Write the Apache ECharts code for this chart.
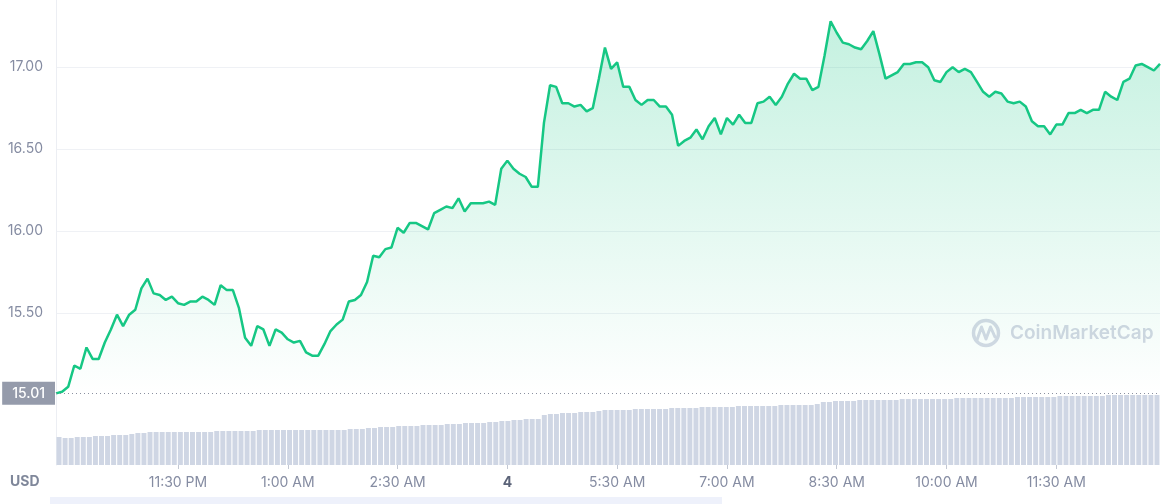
<!DOCTYPE html>
<html>
<head>
<meta charset="utf-8">
<script src="https://cdn.jsdelivr.net/npm/echarts@6/dist/echarts.min.js"></script>
<style>
html,body{margin:0;padding:0;background:#fff;}
#chart{width:1161px;height:504px;}
</style>
</head>
<body>
<div id="chart"></div>
<script>
// ---- data ----
const startMinute = 21 * 60 + 50; // 9:50 PM
const stepMinutes = 5;
const priceValues = [
15.01,15.02,15.05,15.18,15.16,15.29,15.22,15.22,15.32,15.40,
15.49,15.42,15.49,15.52,15.65,15.71,15.62,15.61,15.58,15.60,
15.56,15.55,15.57,15.57,15.60,15.58,15.55,15.67,15.64,15.64,
15.53,15.35,15.30,15.42,15.40,15.30,15.40,15.38,15.34,15.32,
15.33,15.26,15.24,15.24,15.31,15.39,15.43,15.46,15.57,15.58,
15.61,15.69,15.85,15.84,15.89,15.90,16.02,15.99,16.05,16.05,
16.03,16.01,16.11,16.13,16.15,16.14,16.20,16.12,16.17,16.17,
16.17,16.18,16.16,16.38,16.43,16.38,16.35,16.33,16.27,16.27,
16.66,16.89,16.88,16.78,16.78,16.76,16.77,16.73,16.75,16.93,
17.12,16.99,17.03,16.88,16.88,16.80,16.77,16.80,16.80,16.76,
16.76,16.71,16.52,16.55,16.57,16.62,16.56,16.64,16.69,16.59,
16.69,16.65,16.71,16.66,16.66,16.78,16.79,16.82,16.77,16.82,
16.90,16.96,16.93,16.93,16.86,16.88,17.07,17.28,17.21,17.15,
17.14,17.12,17.11,17.16,17.22,17.08,16.93,16.95,16.97,17.02,
17.02,17.03,17.03,17.00,16.92,16.91,16.97,17.00,16.97,16.99,
16.97,16.91,16.85,16.82,16.85,16.84,16.79,16.78,16.79,16.76,
16.67,16.64,16.64,16.59,16.65,16.65,16.72,16.72,16.74,16.72,
16.74,16.74,16.85,16.82,16.80,16.91,16.93,17.01,17.02,17.00,
16.98,17.02
];
const volumeValues = [
28,27,27,28,28,28,29,29,29,30,30,30,31,32,32,33,33,
33,33,33,33,33,33,33,33,33,34,34,34,34,34,
34,34,35,35,35,35,35,35,35,35,35,35,35,35,35,35,35,36,36,36,
37,37,38,38,38,39,39,39,39,40,40,40,40,41,41,41,42,42,42,42,43,43,
44,44,45,45,46,46,46,
50,51,51,52,52,52,53,53,53,54,55,55,55,55,55,56,56,56,56,56,56,
57,57,57,57,57,58,58,58,58,58,58,59,59,59,59,59,59,59,60,60,60,60,60,60,61,
63,63,64,64,64,64,65,65,65,65,65,65,65,66,66,66,66,66,66,66,66,66,67,67,67,
67,67,67,67,67,67,67,68,68,68,68,68,68,68,69,69,69,69,69,69,69,69,70,70,70,70,70,70,70,70,70
];
const openPrice = 15.01;
const priceAxisMin = 15.0;
const priceAxisMax = 17.41;
const tickTimes  = ['23:30','01:00','02:30','04:00','05:30','07:00','08:30','10:00','11:30'];
const tickLabels = ['11:30 PM','1:00 AM','2:30 AM','4','5:30 AM','7:00 AM','8:30 AM','10:00 AM','11:30 AM'];
const dayLabels = ['4'];
const yTickLabels = ['15.50','16.00','16.50','17.00'];
const currency = 'USD';
const watermark = 'CoinMarketCap';

// categories (timestamps of each point)
const categories = priceValues.map(function (_, i) {
  const t = (startMinute + stepMinutes * i) % 1440;
  const h = Math.floor(t / 60), m = t % 60;
  return (h < 10 ? '0' : '') + h + ':' + (m < 10 ? '0' : '') + m;
});

const FONT = 'Inter, "Noto Sans", sans-serif';
const showTick = function (idx) { return tickTimes.indexOf(categories[idx]) >= 0; };

const chart = echarts.init(document.getElementById('chart'), null, {renderer: 'canvas'});
chart.setOption({
  animation: false,
  backgroundColor: '#ffffff',
  grid: [
    {left: 56, right: 1, top: 0, bottom: 109},
    {left: 56, right: 1, top: 395, bottom: 39}
  ],
  xAxis: [
    {
      type: 'category', gridIndex: 0, data: categories, boundaryGap: false,
      position: 'bottom', offset: 70,
      axisLine: {show: false},
      axisTick: {show: true, interval: showTick, length: 4, lineStyle: {color: '#c3c8d3', width: 1}},
      axisLabel: {
        interval: showTick, margin: 11, color: '#858ca2', fontSize: 14, fontFamily: FONT,
        formatter: function (v) {
          const k = tickTimes.indexOf(v);
          if (k < 0) return '';
          const lab = tickLabels[k];
          return dayLabels.indexOf(lab) >= 0 ? '{d|' + lab + '}' : lab;
        },
        rich: {d: {fontWeight: 'bold', color: '#5b6378', fontSize: 14, fontFamily: FONT}}
      },
      splitLine: {show: false}
    },
    {
      type: 'category', gridIndex: 1, data: categories, boundaryGap: true,
      show: false
    }
  ],
  yAxis: [
    {
      type: 'value', gridIndex: 0, min: priceAxisMin, max: priceAxisMax, interval: 0.5,
      axisLine: {show: true, lineStyle: {color: '#eceef3', width: 1}},
      axisTick: {show: false},
      axisLabel: {
        margin: 13, color: '#858ca2', fontSize: 14, fontFamily: FONT,
        showMinLabel: false, showMaxLabel: false,
        formatter: function (v) {
          const s = v.toFixed(2);
          return yTickLabels.indexOf(s) >= 0 ? s : '';
        }
      },
      splitLine: {show: true, showMinLine: false, showMaxLine: false, lineStyle: {color: '#eff1f5', width: 1}}
    },
    {
      type: 'value', gridIndex: 1, min: 0, max: 70,
      axisLine: {show: true, lineStyle: {color: '#eceef3', width: 1}},
      axisTick: {show: false}, axisLabel: {show: false}, splitLine: {show: false}
    }
  ],
  series: [
    {
      type: 'bar', xAxisIndex: 1, yAxisIndex: 1, data: volumeValues,
      barCategoryGap: '18%', itemStyle: {color: '#cfd6e4'}, silent: true
    },
    {
      type: 'line', xAxisIndex: 0, yAxisIndex: 0, data: priceValues,
      symbol: 'none', smooth: false,
      lineStyle: {color: '#16c784', width: 2.5},
      areaStyle: {
        color: new echarts.graphic.LinearGradient(0, 0, 0, 1, [
          {offset: 0, color: 'rgba(22,199,132,0.36)'},
          {offset: 1, color: 'rgba(22,199,132,0)'}
        ])
      },
      z: 3,
      markLine: {
        silent: true, symbol: 'none', animation: false,
        lineStyle: {type: [1, 3], color: '#8a90a0', width: 1},
        label: {
          show: true, position: 'start', distance: 1,
          formatter: function () { return openPrice.toFixed(2); },
          color: '#ffffff', fontSize: 14, fontWeight: 500, fontFamily: FONT,
          backgroundColor: '#959bab', padding: [5, 10, 4, 10], borderRadius: 0
        },
        data: [{yAxis: openPrice}]
      }
    }
  ],
  graphic: [
    {type: 'text', left: 10, top: 475, z: 10,
     style: {text: currency, fill: '#7f879a', font: 'bold 14px ' + FONT}},
    {type: 'circle', shape: {cx: 986, cy: 333, r: 12.5}, z: 1, silent: true,
     style: {fill: 'none', stroke: '#d5d9e5', lineWidth: 3.5}},
    {type: 'polyline', shape: {points: [[977, 340], [981.5, 327], [986, 339], [990.5, 327], [995, 337]]}, z: 1, silent: true,
     style: {fill: 'none', stroke: '#d5d9e5', lineWidth: 3, lineJoin: 'round', lineCap: 'round'}},
    {type: 'text', x: 1010, y: 333, z: 1, silent: true,
     style: {text: watermark, fill: '#d3d7e3', font: '600 19px ' + FONT, textVerticalAlign: 'middle', verticalAlign: 'middle'}},
    {type: 'rect', shape: {x: 50, y: 497, width: 672, height: 8}, z: 1, silent: true,
     style: {fill: '#eef1fb'}}
  ]
});
</script>
</body>
</html>
